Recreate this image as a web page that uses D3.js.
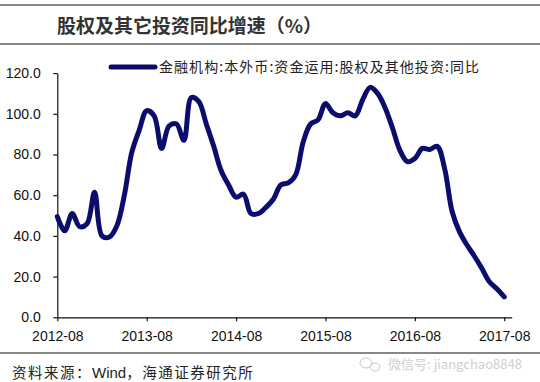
<!DOCTYPE html>
<html><head><meta charset="utf-8">
<script src="https://cdn.jsdelivr.net/npm/d3@7"></script>
<style>
html,body{margin:0;padding:0;background:#fff;}
svg{display:block;}
</style></head>
<body>
<script>
// ---- data ----
const title = "股权及其它投资同比增速（%）";
const seriesName = "金融机构:本外币:资金运用:股权及其他投资:同比";
const sourceLead = "资料来源：";
const sourceWind = "Wind";
const sourceTail = "，海通证券研究所";
const watermark = "微信号: jiangchao8848";
const xTickIndex = [0, 12, 24, 36, 48, 60];
const xTickLabels = ["2012-08", "2013-08", "2014-08", "2015-08", "2016-08", "2017-08"];
const yTicks = [0, 20, 40, 60, 80, 100, 120];
// monthly values, 2012-08 .. 2017-08
const values = [
  49.5, 42.5, 51, 44.5, 46, 61.5, 40, 39.5, 45, 60, 81, 92,
  101.5, 99, 83, 94, 95, 87, 108, 106, 95, 84, 72, 65,
  59, 60.5, 51, 51, 54, 58, 65, 66, 70, 86, 95, 97,
  105, 100.5, 99, 100.5, 99, 107, 113, 110, 103, 93, 82, 76.5,
  78, 83, 82.5, 84, 73, 52, 42, 35.5, 30, 24, 17.5, 14, 10
];

const W = 540, H = 382;
const svg = d3.select("body").append("svg").attr("width", W).attr("height", H);
svg.append("rect").attr("width", W).attr("height", H).attr("fill", "#fff");

// frame lines
[5, 44, 353].forEach(yy => {
  svg.append("line").attr("x1", 0).attr("x2", W).attr("y1", yy).attr("y2", yy)
    .attr("stroke", "#111").attr("stroke-width", 1.2);
});

const cjk = "'Noto Sans CJK SC', sans-serif";
const font = "'Liberation Sans', Arial, sans-serif";

// title
svg.append("text").attr("x", 57).attr("y", 33)
  .attr("font-family", cjk).attr("font-size", 19)
  .attr("font-weight", "bold").attr("fill", "#333")
  .attr("textLength", 265).attr("lengthAdjust", "spacing")
  .text(title);

const x = d3.scaleLinear().domain([0, 61]).range([57.3, 511.7]);
const y = d3.scaleLinear().domain([0, 120]).range([317.3, 73.1]);

// y axis
const gy = svg.append("g").attr("transform", `translate(${x(0)},0)`)
  .call(d3.axisLeft(y).tickValues(yTicks).tickFormat(d3.format(".1f"))
    .tickSize(4).tickSizeOuter(0).tickPadding(12.5));
// x axis
const gx = svg.append("g").attr("transform", `translate(0,${y(0)})`)
  .call(d3.axisBottom(x).tickValues(xTickIndex).tickFormat((d, i) => xTickLabels[i])
    .tickSize(4).tickSizeOuter(0).tickPadding(9.5));
[gx, gy].forEach(g => {
  g.selectAll("text").attr("font-family", font).attr("font-size", 14).attr("fill", "#111");
  g.selectAll("line,path").attr("stroke", "#111").attr("stroke-width", 1.2);
});

// series line
const line = d3.line().x((d, i) => x(i)).y(d => y(d)).curve(d3.curveCatmullRom.alpha(0.5));
svg.append("path").datum(values).attr("d", line)
  .attr("fill", "none").attr("stroke", "#0c0c6c").attr("stroke-width", 5)
  .attr("stroke-linejoin", "round").attr("stroke-linecap", "round");

// legend
svg.append("line").attr("x1", 111).attr("x2", 155).attr("y1", 67).attr("y2", 67)
  .attr("stroke", "#0c0c6c").attr("stroke-width", 5).attr("stroke-linecap", "round");
svg.append("text").attr("x", 159).attr("y", 72)
  .attr("font-family", cjk).attr("font-size", 14)
  .attr("fill", "#222").attr("textLength", 320).attr("lengthAdjust", "spacing")
  .text(seriesName);

// source
const src = svg.append("text").attr("x", 12).attr("y", 378)
  .attr("font-family", cjk).attr("font-size", 14.5).attr("fill", "#222");
src.append("tspan").attr("letter-spacing", 1.5).text(sourceLead);
src.append("tspan").attr("font-family", font).attr("font-size", 15).text(sourceWind);
src.append("tspan").attr("letter-spacing", 1.5).text(sourceTail);

// watermark
const wm = svg.append("g").attr("opacity", 0.55);
wm.append("ellipse").attr("cx", 366).attr("cy", 363).attr("rx", 6).attr("ry", 5)
  .attr("fill", "none").attr("stroke", "#999").attr("stroke-width", 1);
wm.append("ellipse").attr("cx", 375).attr("cy", 367).attr("rx", 5).attr("ry", 4)
  .attr("fill", "none").attr("stroke", "#999").attr("stroke-width", 1);
wm.append("text").attr("x", 388).attr("y", 369)
  .attr("font-family", cjk).attr("font-size", 13)
  .attr("fill", "#aaa").attr("textLength", 134).attr("lengthAdjust", "spacingAndGlyphs")
  .text(watermark);
</script>
</body></html>
